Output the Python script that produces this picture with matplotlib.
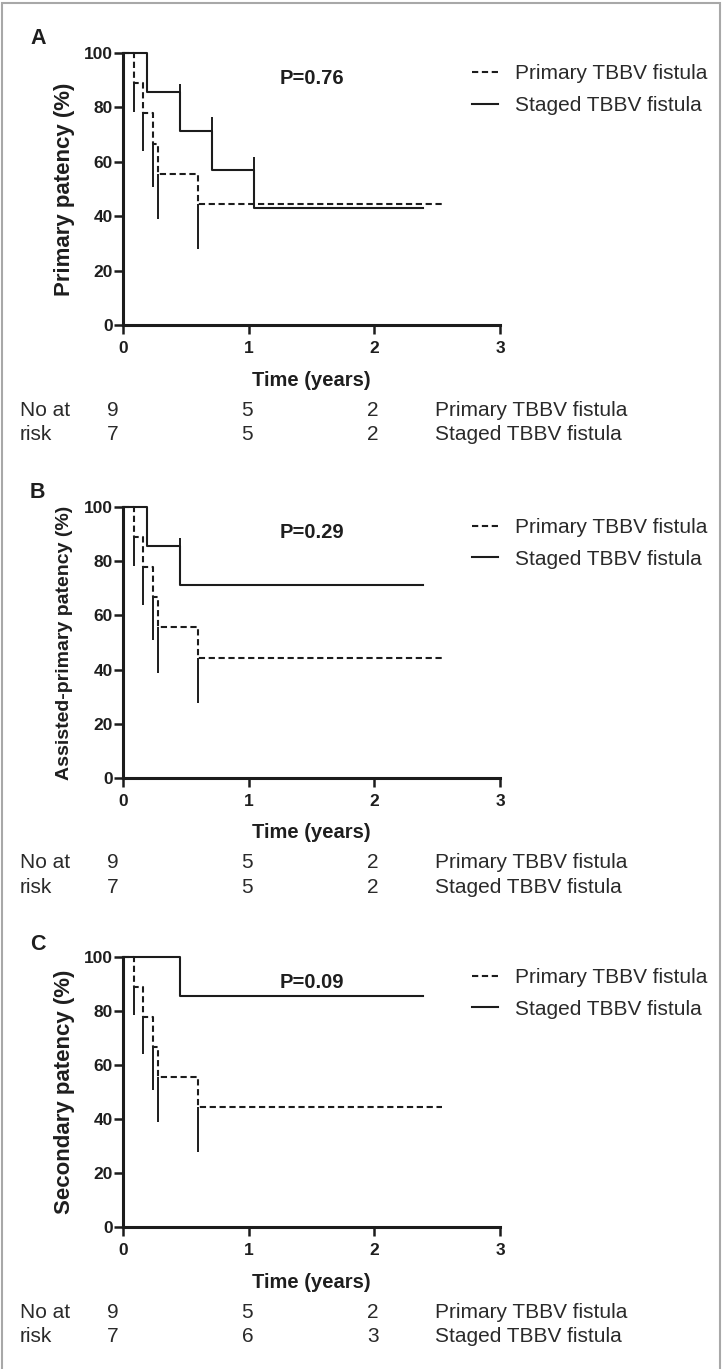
import matplotlib
matplotlib.use('Agg')
import matplotlib.pyplot as plt
from matplotlib.patches import Rectangle

plt.rcParams['font.family'] = ['Liberation Sans', 'DejaVu Sans']
plt.rcParams['lines.scale_dashes'] = False

W, H, DPI = 726, 1369, 100

# ---------------- data ----------------
primary_times = [0, 0.087, 0.16, 0.24, 0.275, 0.594, 2.54]
primary_surv = [100, 88.9, 77.8, 66.7, 55.6, 44.4, 44.4]
primary_bar_low = [78.4, 64.0, 50.9, 38.9, 27.8]

staged_times = [
    [0, 0.19, 0.45, 0.705, 1.04, 2.39],
    [0, 0.19, 0.45, 2.39],
    [0, 0.45, 2.39],
]
staged_surv = [
    [100, 85.7, 71.4, 57.1, 42.9, 42.9],
    [100, 85.7, 71.4, 71.4],
    [100, 85.7, 85.7],
]
staged_bar_high = [
    [98.9, 88.5, 76.3, 61.8],
    [98.9, 88.5],
    [98.9],
]

panel_letters = ['A', 'B', 'C']
ylabels = ['Primary patency (%)', 'Assisted-primary patency (%)', 'Secondary patency (%)']
p_values = ['P=0.76', 'P=0.29', 'P=0.09']
series_labels = ['Primary TBBV fistula', 'Staged TBBV fistula']
at_risk_primary = [[9, 5, 2], [9, 5, 2], [9, 5, 2]]
at_risk_staged = [[7, 5, 2], [7, 5, 2], [7, 6, 3]]
x_ticks = [0, 1, 2, 3]
y_ticks = [0, 20, 40, 60, 80, 100]

# ---------------- layout ----------------
LEFT, RIGHT = 123, 500
panels_px = [(53, 325), (507, 778), (957, 1227)]   # (top, bottom) pixel rows
letter_y = [38, 492, 945]
ylabel_size = [16, 14, 16]
at_risk_x = [-0.08, 0.99, 1.99]
LINE = '#1c1c1c'
TXT = '#1e1e1e'

fig = plt.figure(figsize=(W / DPI, H / DPI), dpi=DPI)
fig.patch.set_facecolor('white')
fig.add_artist(Rectangle((2 / W, -0.01), 718 / W, 1 - 3 / H + 0.01,
                         transform=fig.transFigure, fill=False,
                         edgecolor='#a8a8a8', linewidth=1.5))

for i in range(3):
    top, bot = panels_px[i]
    h = bot - top
    ax = fig.add_axes([LEFT / W, 1 - bot / H, (RIGHT - LEFT) / W, h / H])
    ax.set_xlim(0, 3)
    ax.set_ylim(0, 100)
    for s in ['top', 'right']:
        ax.spines[s].set_visible(False)
    for s in ['left', 'bottom']:
        ax.spines[s].set_linewidth(2.2)
        ax.spines[s].set_color(LINE)
    ax.set_xticks(x_ticks)
    ax.set_yticks(y_ticks)
    ax.tick_params(axis='both', length=6.5, width=1.8, color=LINE, labelsize=12.5)
    ax.tick_params(axis='y', pad=1)
    ax.tick_params(axis='x', pad=5)
    for lab in ax.get_xticklabels() + ax.get_yticklabels():
        lab.set_fontweight('bold')
        lab.set_color(TXT)

    # primary (dashed)
    ax.step(primary_times, primary_surv, where='post', color=LINE, lw=1.5,
            dashes=(4.5, 2.6), clip_on=False, label=series_labels[0])
    ax.vlines(primary_times[1:-1], primary_bar_low, primary_surv[1:-1],
              color=LINE, lw=1.4, clip_on=False)
    # staged (solid)
    st, ss = staged_times[i], staged_surv[i]
    ax.step(st, ss, where='post', color=LINE, lw=1.5, clip_on=False,
            label=series_labels[1])
    ax.vlines(st[1:-1], ss[1:-1], staged_bar_high[i], color=LINE, lw=1.4,
              clip_on=False)

    ax.set_xlabel('Time (years)', fontsize=14.5, fontweight='bold', color=TXT)
    ax.xaxis.set_label_coords(0.5, -55 / h)
    ax.xaxis.label.set_va('center')
    ax.set_ylabel(ylabels[i], fontsize=ylabel_size[i], fontweight='bold', color=TXT)
    ax.yaxis.set_label_coords((64.5 - LEFT) / (RIGHT - LEFT), 0.5)
    ax.yaxis.label.set_va('center')

    ax.text(1.5, 90.5, p_values[i], ha='center', va='center', fontsize=14.5,
            fontweight='bold', color=TXT)

    leg = ax.legend(loc='upper left', bbox_to_anchor=(0.926, 0.96),
                    frameon=False, fontsize=15, handlelength=1.25,
                    handletextpad=0.8, labelspacing=0.62, borderpad=0,
                    borderaxespad=0)
    for t in leg.get_texts():
        t.set_color('#2a2a2a')

    fig.text(30 / W, 1 - letter_y[i] / H, panel_letters[i], fontsize=15.5,
             fontweight='bold', va='center', ha='left', color=TXT)

    trans = ax.get_xaxis_transform()
    y1 = -85 / h
    y2 = -110 / h
    ax.text((20 - LEFT) / 125.67, y1, 'No at', transform=trans, fontsize=15,
            va='center', ha='left', clip_on=False, color='#2a2a2a')
    ax.text((20 - LEFT) / 125.67, y2, 'risk', transform=trans, fontsize=15,
            va='center', ha='left', clip_on=False, color='#2a2a2a')
    for xp, n1, n2 in zip(at_risk_x, at_risk_primary[i], at_risk_staged[i]):
        ax.text(xp, y1, str(n1), transform=trans, fontsize=15, va='center',
                ha='center', clip_on=False, color='#2a2a2a')
        ax.text(xp, y2, str(n2), transform=trans, fontsize=15, va='center',
                ha='center', clip_on=False, color='#2a2a2a')
    ax.text(2.48, y1, series_labels[0], transform=trans, fontsize=15,
            va='center', ha='left', clip_on=False, color='#2a2a2a')
    ax.text(2.48, y2, series_labels[1], transform=trans, fontsize=15,
            va='center', ha='left', clip_on=False, color='#2a2a2a')

fig.savefig('out.png', dpi=DPI)
